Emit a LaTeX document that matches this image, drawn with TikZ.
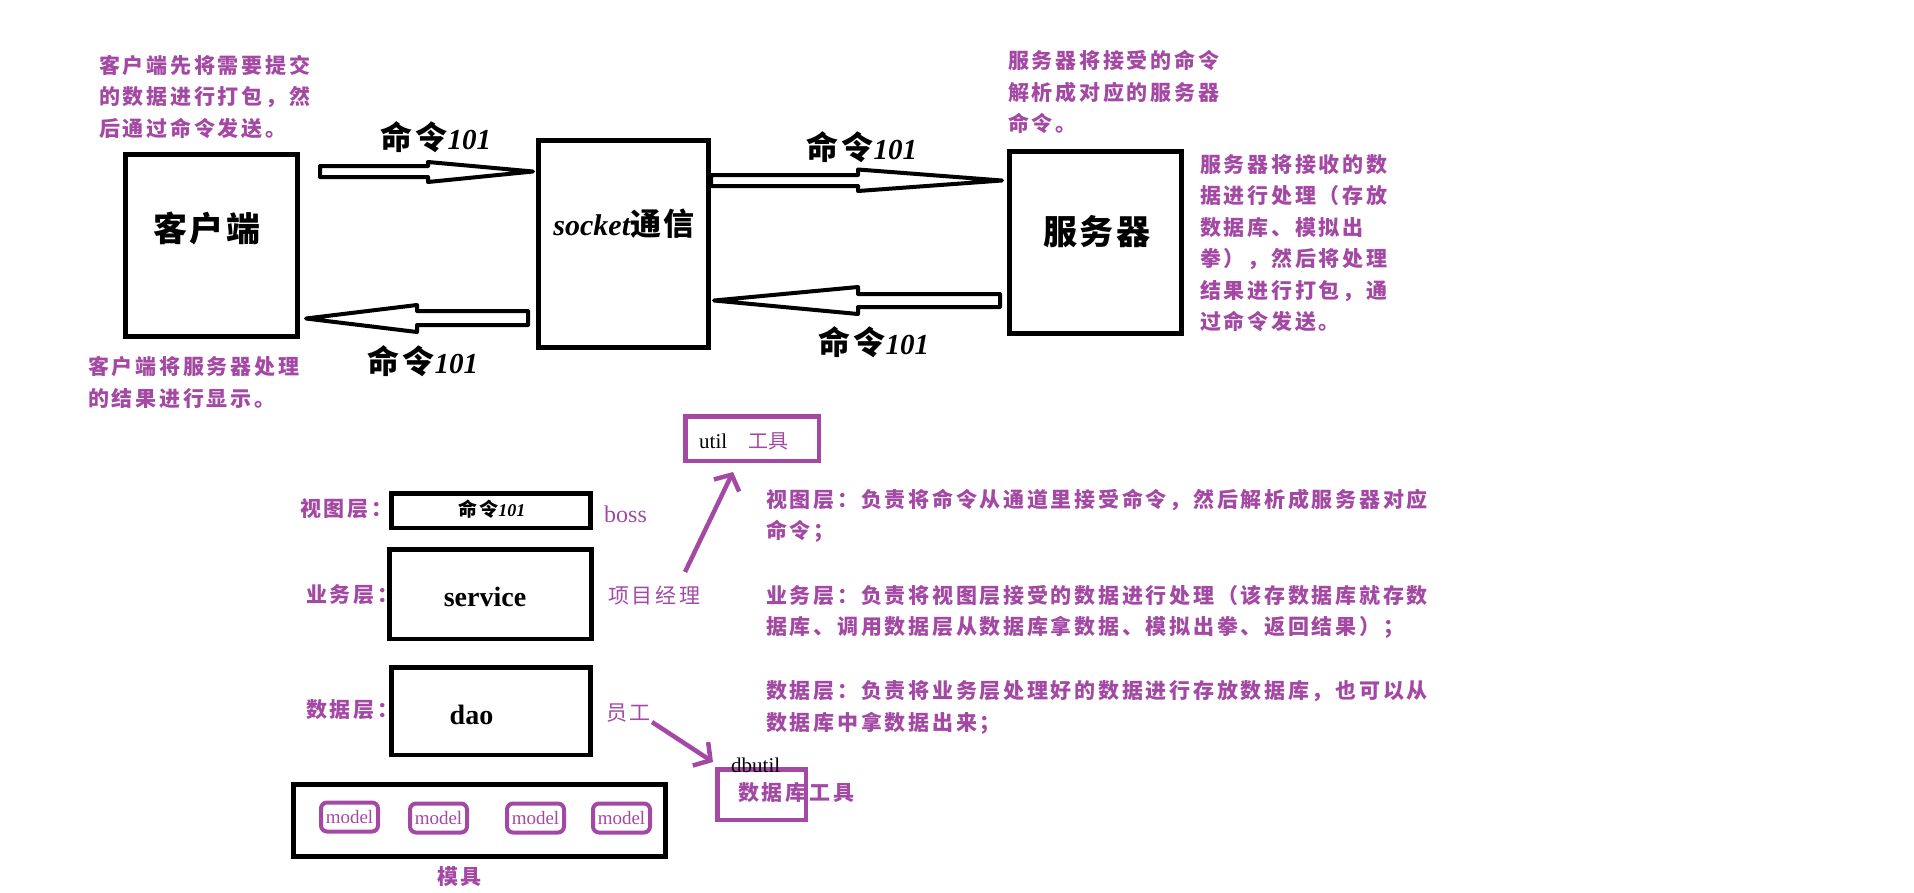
\documentclass[tikz,border=0pt]{standalone}
\usepackage{fontspec}
\setmainfont{Liberation Serif}
\newfontfamily\cjk[LetterSpace=13]{Noto Sans CJK SC}
\newfontfamily\cjkB[LetterSpace=8]{Noto Sans CJK SC}
\newfontfamily\cjkR{Noto Sans CJK SC}
\usetikzlibrary{arrows.meta}
\definecolor{ppl}{RGB}{163,73,164}
\newcommand{\fs}[1]{\fontsize{#1}{#1}\selectfont}
\newcommand{\cmdtxt}[2]{{\cjkB\bfseries\fs{#1}命令}{\bfseries\itshape\fs{#2}101}}
\begin{document}
\begin{tikzpicture}[x=1pt,y=-1pt,
  bbox/.style={draw=black,line width=5pt,fill=white,inner sep=0pt},
  lbox/.style={draw=black,line width=4.5pt,inner sep=0pt},
  pbox/.style={draw=ppl,line width=4.5pt,inner sep=0pt},
  mbox/.style={draw=ppl,line width=4pt,rounded corners=6pt,inner sep=0pt,minimum width=57pt,minimum height=29pt,text=ppl,font=\fs{19}},
  barrow/.style={draw=black,line width=4pt,fill=white,line join=round},
  parrow/.style={draw=ppl,line width=4.5pt,-{Straight Barb[length=12pt,width=28pt]}},
  ptext/.style={text=ppl,font=\cjk\bfseries\fontsize{21}{31.5}\selectfont,inner sep=0pt,align=left,anchor=west},
  pthin/.style={text=ppl,font=\cjk\fontsize{21}{21}\selectfont,inner sep=0pt,anchor=west},
  blbl/.style={font=\cjkB\bfseries\fs{34},inner sep=0pt},
  cmd/.style={inner sep=0pt}]
\useasboundingbox (0,0) rectangle (1914,892);

% block arrows
\draw[barrow] (320,166) -- (428,166) -- (428,162) -- (533,171.5) -- (428,182) -- (428,177) -- (320,177) -- cycle;
\draw[barrow] (711,175) -- (858,175) -- (858,169.5) -- (1002,180.5) -- (858,191) -- (858,186) -- (711,186) -- cycle;
\draw[barrow] (1000,294) -- (858,294) -- (858,287) -- (714,300.5) -- (858,314) -- (858,307) -- (1000,307) -- cycle;
\draw[barrow] (528,311) -- (417,311) -- (417,305) -- (306,318.5) -- (417,332) -- (417,325) -- (528,325) -- cycle;

% main boxes
\node[bbox,minimum width=172pt,minimum height=182pt] (client) at (211.5,245.5) {};
\node[bbox,minimum width=170pt,minimum height=207pt] (socket) at (623.5,244) {};
\node[bbox,minimum width=172pt,minimum height=182pt] (server) at (1095.5,242.5) {};
\node[blbl] (clientl) at (207,228) {客户端};
\node[inner sep=0pt] (socketl) at (624,224) {{\bfseries\itshape\fs{30}socket}{\cjkB\bfseries\fs{31}通信}};
\node[blbl] (serverl) at (1097,232) {服务器};

% command labels
\node[cmd] (c1) at (436,137) {\cmdtxt{32}{29}};
\node[cmd] (c2) at (862,147) {\cmdtxt{32}{29}};
\node[cmd] (c3) at (874,342) {\cmdtxt{32}{29}};
\node[cmd] (c4) at (423,361) {\cmdtxt{32}{29}};

% purple notes
\node[ptext] (p1) at (99,96.5) {客户端先将需要提交\\的数据进行打包，然\\后通过命令发送。};
\node[ptext] (p2) at (88,382.5) {客户端将服务器处理\\的结果进行显示。};
\node[ptext] (p3) at (1008,92) {服务器将接受的命令\\解析成对应的服务器\\命令。};
\node[ptext] (p4) at (1200,243) {服务器将接收的数\\据进行处理（存放\\数据库、模拟出\\拳），然后将处理\\结果进行打包，通\\过命令发送。};
\node[ptext] (p5) at (766,516) {视图层：负责将命令从通道里接受命令，然后解析成服务器对应\\命令；};
\node[ptext,font=\cjk\bfseries\fontsize{21}{30.5}\selectfont] (p6) at (766,612) {业务层：负责将视图层接受的数据进行处理（该存数据库就存数\\据库、调用数据层从数据库拿数据、模拟出拳、返回结果）；};
\node[ptext] (p7) at (766,707.5) {数据层：负责将业务层处理好的数据进行存放数据库，也可以从\\数据库中拿数据出来；};

% layers
\node[ptext] (lv) at (300,509) {视图层：};
\node[ptext] (ls) at (306,595) {业务层：};
\node[ptext] (ld) at (306,710) {数据层：};
\node[lbox,minimum width=199pt,minimum height=34.5pt] (view) at (491,510.5) {};
\node[cmd] (vcmd) at (492,509) {\cmdtxt{19}{18}};
\node[anchor=base west,inner sep=0pt,text=ppl,font=\fs{24}] (boss) at (604,522) {boss};
\node[lbox,minimum width=202pt,minimum height=89.5pt] (svc) at (490.5,594) {};
\node[anchor=base,inner sep=0pt,font=\bfseries\fs{28}] (svct) at (485,606) {service};
\node[pthin] (pm) at (608,595) {项目经理};
\node[lbox,minimum width=199pt,minimum height=87.5pt] (dao) at (491,711) {};
\node[anchor=base,inner sep=0pt,font=\bfseries\fs{28}] (daot) at (471.5,724) {dao};
\node[pthin] (yg) at (606,713) {员工};
\node[lbox,minimum width=372pt,minimum height=72pt] (models) at (479.5,820.5) {};
\node[mbox] (m1) at (349.5,817) {model};
\node[mbox] (m2) at (438.5,818) {model};
\node[mbox] (m3) at (535.5,818) {model};
\node[mbox] (m4) at (621.5,818) {model};
\node[ptext,anchor=center] (mj) at (459.5,877) {模具};

% util boxes
\node[pbox,minimum width=133.5pt,minimum height=44.5pt] (util) at (752,438.5) {};
\node[anchor=base west,inner sep=0pt,font=\fs{21}] (utilt) at (699,448) {util};
\node[anchor=west,inner sep=0pt,text=ppl,font=\cjkR\fs{20}] (gj) at (748,441) {工具};
\node[pbox,minimum width=88.5pt,minimum height=50.5pt] (dbu) at (761.5,794.5) {};
\node[anchor=base west,inner sep=0pt,font=\fs{21}] (dbut) at (731,772) {dbutil};
\node[ptext] (dbt) at (738,792) {数据库工具};

% purple arrows
\coordinate (uA) at (685,572);
\coordinate (uB) at (733,472);
\draw[parrow] (uA) -- (uB);
\coordinate (dA) at (652,722);
\coordinate (dB) at (713,762);
\draw[parrow] (dA) -- (dB);
\end{tikzpicture}
\end{document}
